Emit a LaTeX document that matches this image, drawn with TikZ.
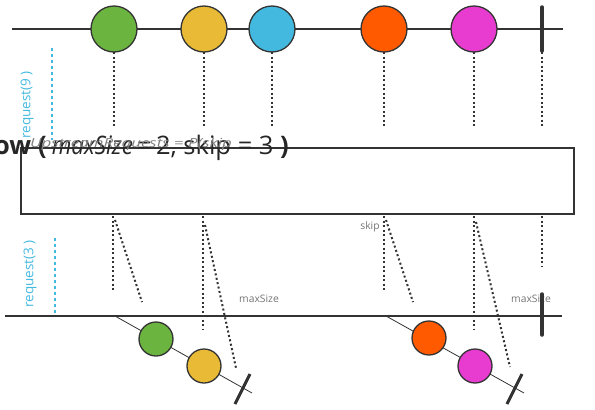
\documentclass[tikz,border=0pt]{standalone}
\usepackage{fontspec}
\setmainfont{Open Sans}
\begin{document}
\begin{tikzpicture}[x=1pt,y=-1pt,
  ln/.style={draw=black!80, line width=2pt},
  thin/.style={draw=black!80, line width=0.8pt},
  dots/.style={draw=black!80, line width=2pt, dash pattern=on 2pt off 2.5pt},
  bdots/.style={draw=cb, line width=2pt, dash pattern=on 3pt off 3pt},
  big/.style={circle, draw=black!80, line width=1.3pt, minimum size=46pt, inner sep=0pt},
  small/.style={circle, draw=black!80, line width=1.3pt, minimum size=34pt, inner sep=0pt},
  endbar/.style={draw=black!80, line width=3.5pt, line cap=round},
  lbl/.style={text=black!55, font=\fontsize{10.3}{11}\selectfont, inner sep=0pt},
  req/.style={text=cb, font=\fontsize{13.5}{14}\selectfont, rotate=90, inner sep=0pt}]
\definecolor{cg}{HTML}{6BB43F}
\definecolor{cy}{HTML}{E8BA36}
\definecolor{cb}{HTML}{44B9E0}
\definecolor{co}{HTML}{FF5A00}
\definecolor{cm}{HTML}{E73CCF}
\useasboundingbox (0,0) rectangle (595,410);
% top timeline
\coordinate (t0) at (12,29); \coordinate (t1) at (563,29);
\draw[ln] (t0) -- (t1);
\coordinate (tb1) at (542,7); \coordinate (tb2) at (542,51);
\draw[endbar] (tb1) -- (tb2);
% dotted drops (drawn before circles)
\foreach \x in {114,204,272,384,474,542}
  \draw[dots] (\x,52) -- (\x,128);
\node[big, fill=cg] (a) at (114,29) {};
\node[big, fill=cy] (b) at (204,29) {};
\node[big, fill=cb] (c) at (272,29) {};
\node[big, fill=co] (d) at (384,29) {};
\node[big, fill=cm] (e) at (474,29) {};
% request(9)
\coordinate (r9a) at (52,48); \coordinate (r9b) at (52,140);
\draw[bdots] (r9a) -- (r9b);
\node[req] (req9) at (27,105) {request(9 )};
% operator box
\node[draw=black!80, line width=1.6pt, minimum width=553pt, minimum height=66pt, inner sep=0pt] (box) at (297.5,181) {};
\node[anchor=base east, inner sep=0pt, text=black!85, font=\fontsize{25.5}{28}\selectfont] (title) at (289,154)
  {\textbf{window}\hspace{7pt}\textbf{(}\hspace{5pt}\scalebox{0.88}[1]{\textit{maxSize}}\,=\,2, skip = 3 \textbf{)}};
\node[anchor=base west, inner sep=0pt, text=black!50, font=\fontsize{12.5}{14}\selectfont\itshape] (up) at (30,147)
  {\scalebox{1.35}[1]{UpstreamRequests = P(skip}};
% below box dotted lines
\draw[dots] (113,216) -- (113,290);
\draw[dots] (115,220) -- (142,302);
\draw[dots] (203,216) -- (203,330);
\draw[dots] (205,225) -- (236,368);
\draw[dots] (384,216) -- (384,290);
\draw[dots] (386,220) -- (413,302);
\draw[dots] (474,216) -- (474,330);
\draw[dots] (476,222) -- (510,367);
\draw[dots] (542,216) -- (542,266);
\node[lbl] (skip) at (370,227) {skip};
\node[lbl] (ms1) at (259,299) {maxSize};
\node[lbl] (ms2) at (531,299) {maxSize};
% request(3)
\coordinate (r3a) at (55,238); \coordinate (r3b) at (55,314);
\draw[bdots] (r3a) -- (r3b);
\node[req] (req3) at (30,274) {request(3 )};
% bottom timeline
\coordinate (b0) at (5,316); \coordinate (b1) at (562,316);
\draw[ln] (b0) -- (b1);
\coordinate (bb1) at (542,294); \coordinate (bb2) at (542,335);
\draw[endbar] (bb1) -- (bb2);
% window 1
\coordinate (w1s) at (115,316); \coordinate (w1e) at (252,393);
\draw[thin] (w1s) -- (w1e);
\node[small, fill=cg] (g2) at (156,339) {};
\node[small, fill=cy] (y2) at (204,366) {};
\coordinate (s1a) at (235,404); \coordinate (s1b) at (250,374);
\draw[endbar, line width=3pt, line cap=butt] (s1a) -- (s1b);
% window 2
\coordinate (w2s) at (386,316); \coordinate (w2e) at (524,393);
\draw[thin] (w2s) -- (w2e);
\node[small, fill=co] (o2) at (429,338) {};
\node[small, fill=cm] (m2) at (475,366) {};
\coordinate (s2a) at (507,404); \coordinate (s2b) at (522,374);
\draw[endbar, line width=3pt, line cap=butt] (s2a) -- (s2b);
\end{tikzpicture}
\end{document}
